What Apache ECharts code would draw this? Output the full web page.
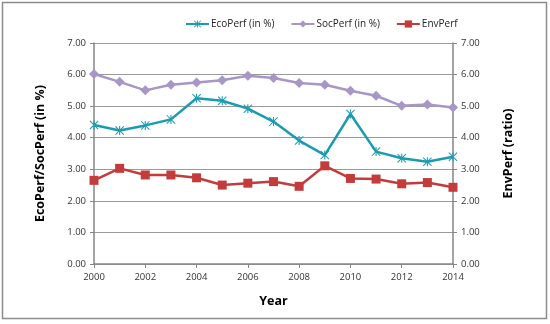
<!DOCTYPE html>
<html><head><meta charset="utf-8">
<script src="https://cdn.jsdelivr.net/npm/echarts@6/dist/echarts.min.js"></script>
<style>html,body{margin:0;padding:0;background:#fff}#c{width:550px;height:324px}</style>
</head><body><div id="c"></div>
<script>
const years = [2000,2001,2002,2003,2004,2005,2006,2007,2008,2009,2010,2011,2012,2013,2014];
const ecoPerf = [4.40,4.23,4.39,4.58,5.25,5.17,4.92,4.51,3.91,3.45,4.75,3.56,3.35,3.24,3.40];
const socPerf = [6.02,5.77,5.50,5.68,5.75,5.82,5.96,5.89,5.73,5.68,5.49,5.33,5.01,5.05,4.96];
const envPerf = [2.65,3.03,2.82,2.82,2.73,2.50,2.56,2.61,2.46,3.11,2.71,2.69,2.54,2.58,2.43];
const seriesNames = ['EcoPerf (in %)','SocPerf (in %)','EnvPerf'];
const leftTitle = 'EcoPerf/SocPerf (in %)';
const rightTitle = 'EnvPerf (ratio)';
const xTitle = 'Year';

const pair = arr => years.map((y,i)=>[y,arr[i]]);
const FONT = 'Open Sans';
const asterisk = 'path://M4.4,0 L5.6,0 L5.6,10 L4.4,10 Z M0,0.8 L0.8,0 L10,9.2 L9.2,10 Z M10,0.8 L9.2,0 L0,9.2 L0.8,10 Z';

const chart = echarts.init(document.getElementById('c'));
const yAxisCommon = {
  type:'value', min:0, max:7, interval:1,
  axisLine:{show:true, lineStyle:{color:'#868686', width:1.5}},
  axisTick:{show:true, length:4, lineStyle:{color:'#868686'}},
  axisLabel:{fontFamily:FONT, fontSize:9.5, color:'#333', formatter:v=>v.toFixed(2)},
  nameLocation:'middle', nameRotate:90,
  nameTextStyle:{fontFamily:FONT, fontSize:12.5, fontWeight:'bold', color:'#000'}
};
chart.setOption({
  animation:false,
  backgroundColor:'#fff',
  graphic:[{type:'rect', shape:{x:2.5,y:2.5,width:544,height:316}, style:{fill:'none', stroke:'#8c8c8c', lineWidth:1.5}}],
  legend:{
    top:14, left:180, itemGap:16, itemWidth:23, itemHeight:9,
    textStyle:{fontFamily:FONT, fontSize:10, color:'#222', padding:[0,0,0,-3]},
    data:seriesNames
  },
  grid:{left:94, right:97, top:43, bottom:60},
  xAxis:{
    type:'value', min:2000, max:2014, interval:2,
    name:xTitle, nameLocation:'middle', nameGap:31,
    nameTextStyle:{fontFamily:FONT, fontSize:12.5, fontWeight:'bold', color:'#000'},
    axisLine:{lineStyle:{color:'#868686', width:1.5}},
    axisTick:{show:true, length:4, lineStyle:{color:'#868686'}},
    axisLabel:{fontFamily:FONT, fontSize:9.5, color:'#333', formatter:v=>String(v), margin:8},
    splitLine:{show:false}
  },
  yAxis:[
    Object.assign({}, yAxisCommon, {position:'left', name:leftTitle, nameGap:47,
      splitLine:{show:true, lineStyle:{color:'#9a9a9a', width:1}}}),
    Object.assign({}, yAxisCommon, {position:'right', name:rightTitle, nameGap:49,
      splitLine:{show:false}})
  ],
  series:[
    {name:seriesNames[0], type:'line', yAxisIndex:0, data:pair(ecoPerf),
     symbol:asterisk, symbolSize:9, showAllSymbol:true,
     lineStyle:{color:'#1b9bb0', width:2.5}, itemStyle:{color:'#1b9bb0'}},
    {name:seriesNames[1], type:'line', yAxisIndex:0, data:pair(socPerf),
     symbol:'diamond', symbolSize:10, showAllSymbol:true,
     lineStyle:{color:'#a996c8', width:2.5}, itemStyle:{color:'#a996c8'}},
    {name:seriesNames[2], type:'line', yAxisIndex:1, data:pair(envPerf),
     symbol:'rect', symbolSize:9, showAllSymbol:true,
     lineStyle:{color:'#c43b3b', width:2.5}, itemStyle:{color:'#c43b3b'}}
  ]
});
</script></body></html>
